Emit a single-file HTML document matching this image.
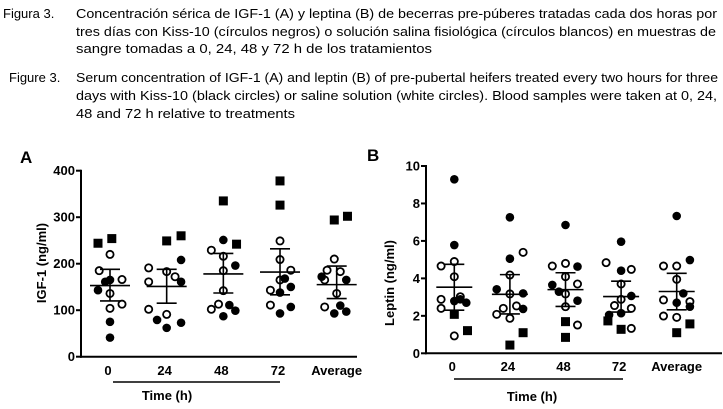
<!DOCTYPE html>
<html><head><meta charset="utf-8"><style>
html,body{margin:0;padding:0;background:#fff;}
svg{display:block;font-family:"Liberation Sans",Arial,sans-serif;}
</style></head><body>
<svg id="fig" width="723" height="409" viewBox="0 0 723 409" xmlns="http://www.w3.org/2000/svg">
<g font-size="13" fill="#000">
<text x="3" y="18">Figura 3.</text>
<text x="76" y="18" textLength="641" lengthAdjust="spacingAndGlyphs">Concentración sérica de IGF-1 (A) y leptina (B) de becerras pre-púberes tratadas cada dos horas por</text>
<text x="76" y="36" textLength="640" lengthAdjust="spacingAndGlyphs">tres días con Kiss-10 (círculos negros) o solución salina fisiológica (círculos blancos) en muestras de</text>
<text x="76" y="53" textLength="356" lengthAdjust="spacingAndGlyphs">sangre tomadas a 0, 24, 48 y 72 h de los tratamientos</text>
<text x="9" y="82">Figure 3.</text>
<text x="76" y="82" textLength="642" lengthAdjust="spacingAndGlyphs">Serum concentration of IGF-1 (A) and leptin (B) of pre-pubertal heifers treated every two hours for three</text>
<text x="76" y="100" textLength="641" lengthAdjust="spacingAndGlyphs">days with Kiss-10 (black circles) or saline solution (white circles). Blood samples were taken at 0, 24,</text>
<text x="76" y="118" textLength="219" lengthAdjust="spacingAndGlyphs">48 and 72 h relative to treatments</text>
</g>
<text x="20" y="163" font-size="17" font-weight="bold">A</text>
<text x="367" y="161" font-size="17" font-weight="bold">B</text>
<g id="panelA"></g>
<g id="panelB"></g>
</svg>
<script>
const categories = ["0","24","48","72","Average"];
// Panel A (IGF-1, ng/ml)
const aYTicks = [0,100,200,300,400];
const aMean = [153,151,178,182,155];
const aLow = [120,115,137,133,125];
const aHigh = [188,188,222,232,195];
const aFilled = [[165,143,161,75,41],[208,161,79,62,73],[251,196,111,99,87],[150,138,107,93,168],[172,165,110,93,97]];
const aFilledJit = [[0,-1,-0.4,0,0],[1.2,1.2,-0.8,0,1.2],[0,1,0.5,1,0],[0.9,0,0.9,0,0.4],[-1.25,0.8,0.3,-0.2,0.8]];
const aOpen = [[220,185,166,136,113,104],[191,161,183,172,102,91],[229,216,185,142,102,113],[249,209,186,143,111,165],[210,186,183,165,136,107]];
const aOpenJit = [[0,-0.9,1,0,1,0],[-1.5,-1.5,0,0.7,-1.5,0],[-1,0,0,0,-1,-0.4],[0,0,0.9,-0.8,-0.8,0],[-0.2,-0.8,0.3,-1,0,-1]];
const aSquare = [[244,254],[249,260],[335,242],[378,326],[294,302]];
const aSquareJit = [[-1,0.15],[0,1.2],[0,1.1],[0,0],[-0.2,0.9]];
// Panel B (Leptin, ng/ml)
const bYTicks = [0,2,4,6,8,10];
const bMean = [3.53,3.15,3.4,3.03,3.3];
const bLow = [2.3,2.1,2.5,2.2,2.32];
const bHigh = [4.75,4.2,4.3,3.85,4.27];
const bFilled = [[9.29,5.78,2.79,2.7,2.88],[7.26,5.05,3.42,3.2,2.37],[6.85,4.63,3.65,3.29,2.81],[5.96,4.41,3.06,2.14,2.05],[7.33,4.98,3.2,2.7,2.49]];
const bFilledJit = [[0,0,0,1,0.5],[0,0,-1.1,1.1,1.1],[0,1,-1.1,-0.55,1],[0,0,0.85,0,-1],[0,1.1,0.55,0,1.1]];
const bOpen = [[4.66,4.9,4.09,2.88,2.4,3.02,0.93],[5.39,4.18,3.17,2.53,2.4,2.08,1.87],[4.66,4.8,4.09,3.7,3.17,2.49,1.51],[4.84,4.48,3.7,2.88,2.4,2.55,1.33],[4.66,4.66,3.95,2.85,2.76,1.99,1.92]];
const bOpenJit = [[-1.1,0,0,-1.1,-1.1,0.5,0],[1.1,0,0,0.55,-0.55,-1.1,0],[-1.1,0,0,1,0,0,1],[-1.25,0.85,0,0,0.85,-0.55,0.85],[-1.1,0,0,-1.1,1.1,-1.1,0]];
const bSquare = [[2.08,1.21],[1.1,0.44],[1.69,0.85],[1.73,1.28],[1.57,1.1]];
const bSquareJit = [[0,1.1],[1.1,0],[0,0],[-1.1,0],[1.1,0]];

const NS = "http://www.w3.org/2000/svg";
function mk(parent, tag, attrs, text){
  const e = document.createElementNS(NS, tag);
  for (const k in attrs) e.setAttribute(k, attrs[k]);
  if (text !== undefined) e.textContent = text;
  parent.appendChild(e);
  return e;
}
function drawPanel(g, cfg){
  const yScale = v => cfg.y0 - (v - cfg.ticks[0]) / (cfg.ticks[cfg.ticks.length-1] - cfg.ticks[0]) * (cfg.y0 - cfg.yTop);
  const xScale = i => cfg.cx0 + i * cfg.step;
  const ya = mk(g, "line", {x1:cfg.ax, y1:yScale(cfg.ticks[cfg.ticks.length-1])-1, x2:cfg.ax, y2:cfg.y0+1, stroke:"#000","stroke-width":2});
  
  
  const xa = mk(g, "line", {x1:cfg.ax-1, y1:cfg.y0, x2:cfg.axEnd, y2:cfg.y0, stroke:"#000","stroke-width":2});
  
  
  cfg.ticks.forEach(t => {
    const y = yScale(t);
    const tl = mk(g, "line", {x1:cfg.ax-5, y1:y, x2:cfg.ax, y2:y, stroke:"#000","stroke-width":2});
    
    
    const tx = mk(g, "text", {x:cfg.ax-6, y:y+4.5, "text-anchor":"end","font-size":13,"font-weight":"bold"}, String(t));
    
    
  });
  categories.forEach((c,i) => {
    const t = mk(g, "text", {x:xScale(i)-(i<4?2:0), y:cfg.labY, "text-anchor":"middle","font-size":13,"font-weight":"bold"}, c);
    
    
  });
  const ul = mk(g, "line", {x1:cfg.ulX1, y1:cfg.ulY, x2:cfg.ulX2, y2:cfg.ulY, stroke:"#000","stroke-width":1.5});
  
  
  const xt = mk(g, "text", {x:cfg.xtX, y:cfg.xtY, "text-anchor":"middle","font-size":13,"font-weight":"bold"}, "Time (h)");
  
  
  const yt = mk(g, "text", {x:0, y:0, "text-anchor":"middle","font-size":13,"font-weight":"bold", transform:"translate("+cfg.ytX+","+cfg.ytY+") rotate(-90)"}, cfg.yTitle);
  
  
  const slot = 12;
  categories.forEach((c,i) => {
    const cx = xScale(i);
    cfg.open[i].forEach((v,k) => {
      const p = mk(g, "circle", {cx:cx+cfg.openJ[i][k]*slot, cy:yScale(v), r:3.6, fill:"#fff", stroke:"#000","stroke-width":1.8});
      
      
    });
    cfg.filled[i].forEach((v,k) => {
      const p = mk(g, "circle", {cx:cx+cfg.filledJ[i][k]*slot, cy:yScale(v), r:4.3, fill:"#000"});
      
      
    });
    cfg.sq[i].forEach((v,k) => {
      const x = cx+cfg.sqJ[i][k]*slot, y = yScale(v);
      const p = mk(g, "rect", {x:x-4.5, y:y-4.5, width:9, height:9, fill:"#000"});
      
      
    });
    const ym = yScale(cfg.mean[i]), yl = yScale(cfg.low[i]), yh = yScale(cfg.high[i]);
    const eg = mk(g, "g", {stroke:"#000","stroke-width":1.6});
    
    
    mk(eg, "line", {x1:cx, y1:yh, x2:cx, y2:yl});
    mk(eg, "line", {x1:cx-cfg.capW, y1:yh, x2:cx+cfg.capW, y2:yh});
    mk(eg, "line", {x1:cx-cfg.capW, y1:yl, x2:cx+cfg.capW, y2:yl});
    mk(eg, "line", {x1:cx-cfg.meanW, y1:ym, x2:cx+cfg.meanW, y2:ym});
  });
}
drawPanel(document.getElementById("panelA"), {
  ticks:aYTicks, y0:356.7, yTop:170.7, ax:81, axEnd:357, cx0:110, step:56.67,
  labY:375, ulX1:113, ulX2:280, ulY:382, xtX:167, xtY:400, ytX:46, ytY:263, yTitle:"IGF-1 (ng/ml)",
  mean:aMean, low:aLow, high:aHigh, filled:aFilled, filledJ:aFilledJit, open:aOpen, openJ:aOpenJit, sq:aSquare, sqJ:aSquareJit,
  capW:10, meanW:20
});
drawPanel(document.getElementById("panelB"), {
  ticks:bYTicks, y0:353.3, yTop:166, ax:426, axEnd:722, cx0:454.3, step:55.6,
  labY:371, ulX1:454, ulX2:623, ulY:379, xtX:532, xtY:401, ytX:394, ytY:283, yTitle:"Leptin (ng/ml)",
  mean:bMean, low:bLow, high:bHigh, filled:bFilled, filledJ:bFilledJit, open:bOpen, openJ:bOpenJit, sq:bSquare, sqJ:bSquareJit,
  capW:10, meanW:18
});
</script>
</body></html>
